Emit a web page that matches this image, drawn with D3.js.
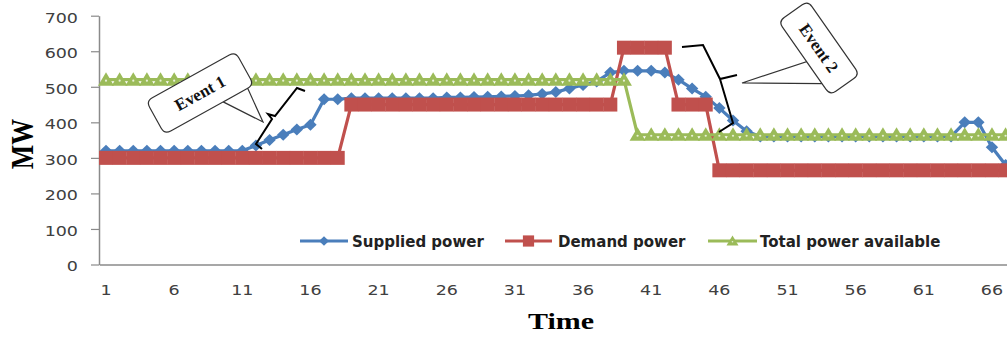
<!DOCTYPE html>
<html><head><meta charset="utf-8">
<script src="https://cdn.jsdelivr.net/npm/d3@7"></script>
<style>body{margin:0;background:#fff;} svg{display:block;}</style>
</head><body><svg id="c" width="1007" height="337"></svg>
<script>
// ---- data ----
const times = [1,2,3,4,5,6,7,8,9,10,11,12,13,14,15,16,17,18,19,20,21,22,23,24,25,26,27,28,29,30,
  31,32,33,34,35,36,37,38,39,40,41,42,43,44,45,46,47,48,49,50,51,52,53,54,55,56,57,58,59,60,
  61,62,63,64,65,66,67];
const supplied = [320,320,320,320,320,320,320,320,320,320,320,335,350,365,380,393,465,465,468,468,
  468,468,468,468,468,470,470,471,472,473,474,476,480,485,495,505,515,540,545,545,
  545,540,520,495,472,440,405,375,360,360,360,360,360,360,360,360,360,360,360,360,
  360,360,360,400,400,330,280];
const demand = [300,300,300,300,300,300,300,300,300,300,300,300,300,300,300,300,300,300,450,450,
  450,450,450,450,450,450,450,450,450,450,450,450,450,450,450,450,450,450,610,610,
  610,610,450,450,450,265,265,265,265,265,265,265,265,265,265,265,265,265,265,265,
  265,265,265,265,265,265,265];
const available = [520,520,520,520,520,520,520,520,520,520,520,520,520,520,520,520,520,520,520,520,
  520,520,520,520,520,520,520,520,520,520,520,520,520,520,520,520,520,520,520,365,
  365,365,365,365,365,365,365,365,365,365,365,365,365,365,365,365,365,365,365,365,
  365,365,365,365,365,365,365];
const xTickLabels = [1,6,11,16,21,26,31,36,41,46,51,56,61,66];
const yTickLabels = [0,100,200,300,400,500,600,700];
const seriesNames = ["Supplied power","Demand power","Total power available"];
const colors = ["#4a7ebb","#c0504d","#9bbb59"];

// ---- layout ----
const svg = d3.select("#c");
const step = 13.63;
const x = d3.scaleBand().domain(times).range([99.2, 99.2 + times.length*step]).padding(0);
const xc = t => x(t) + x.bandwidth()/2;
const y = d3.scaleLinear().domain([0,700]).range([264.5,15.7]);
const sx = 1.25;

// axes
const yAx = svg.append("g").attr("transform","translate(99,0)")
  .call(d3.axisLeft(y).tickValues(yTickLabels).tickSize(8).tickSizeOuter(0));
yAx.select(".domain").attr("stroke","#8a8a8a").attr("stroke-width",1.5);
yAx.selectAll(".tick line").attr("stroke","#8a8a8a").attr("stroke-width",1.2);
yAx.selectAll(".tick text").attr("font-family","DejaVu Sans").attr("font-size",14)
  .attr("fill","#404040").attr("x",-21/sx).attr("dy","0.45em").attr("transform",`scale(${sx},1)`);

const xAx = svg.append("g").attr("transform","translate(0,264.5)")
  .call(d3.axisBottom(x).tickValues(xTickLabels).tickSize(0).tickSizeOuter(0));
xAx.select(".domain").attr("stroke","#8a8a8a").attr("stroke-width",1.5);
xAx.selectAll(".tick text").attr("font-family","DejaVu Sans").attr("font-size",14)
  .attr("fill","#404040").attr("y",25.5).attr("dy","0.36em").attr("transform",`scale(${sx},1)`)
  .attr("x",0);
xAx.selectAll(".tick").attr("transform", d => `translate(${xc(d)},0)`);

// axis titles
svg.append("text").attr("transform","translate(561,329) scale(1.25,1)")
  .attr("text-anchor","middle").attr("font-family","Liberation Serif").attr("font-weight","bold")
  .attr("font-size",24).attr("fill","#000").text("Time");
svg.append("text").attr("transform","translate(33,144) scale(1.2,1) rotate(-90)")
  .attr("text-anchor","middle").attr("font-family","Liberation Serif").attr("font-weight","bold")
  .attr("font-size",26).attr("fill","#000").text("MW");

// markers
const markerFns = [
  (g,c) => g.append("path").attr("d","M0,-6L6.2,0L0,6L-6.2,0Z").attr("fill",c),
  (g,c) => g.append("rect").attr("x",-7).attr("y",-7).attr("width",14).attr("height",14).attr("fill",c),
  (g,c) => { g.append("path").attr("d","M0,-7.5L8,6L-8,6Z").attr("fill",c);
             g.append("circle").attr("cx",0).attr("cy",1).attr("r",1.1).attr("fill","#e8f1d6"); }
];

const allSeries = [supplied, demand, available];
const line = d3.line().x((d,i) => xc(times[i])).y(d => y(d));
allSeries.forEach((vals, si) => {
  const g = svg.append("g");
  g.append("path").attr("d", line(vals)).attr("fill","none").attr("stroke",colors[si])
    .attr("stroke-width",3.2).attr("stroke-linejoin","round");
  vals.forEach((v,i) => {
    const m = g.append("g").attr("transform",`translate(${xc(times[i])},${y(v)})`);
    markerFns[si](m, colors[si]);
  });
});

// legend
const legendItems = [{x0:300,x1:348,tx:352},{x0:505,x1:552,tx:558},{x0:708,x1:757,tx:760}];
const legendScale = [0.8,0.8,0.75];
legendItems.forEach((L,i) => {
  const g = svg.append("g");
  g.append("line").attr("x1",L.x0).attr("x2",L.x1).attr("y1",241).attr("y2",241)
    .attr("stroke",colors[i]).attr("stroke-width",3);
  const m = g.append("g").attr("transform",`translate(${(L.x0+L.x1)/2},241) scale(${legendScale[i]})`);
  markerFns[i](m, colors[i]);
  g.append("text").attr("x",L.tx).attr("y",246.5).attr("font-family","DejaVu Sans")
    .attr("font-weight","bold").attr("font-size",15).attr("fill","#222").text(seriesNames[i]);
});

// callouts
function callout(cx, cy, w, h, ang, b1, b2, tipX, tipY, label, fs) {
  const a = -ang*Math.PI/180;
  const dx = tipX-cx, dy = tipY-cy;
  const lx = dx*Math.cos(a) - dy*Math.sin(a);
  const ly = dx*Math.sin(a) + dy*Math.cos(a);
  const r = 7, hw = w/2, hh = h/2;
  const p = `M${-hw+r},${-hh} H${hw-r} Q${hw},${-hh} ${hw},${-hh+r} V${hh-r} Q${hw},${hh} ${hw-r},${hh}`+
    ` H${b2} L${lx},${ly} L${b1},${hh} H${-hw+r} Q${-hw},${hh} ${-hw},${hh-r} V${-hh+r} Q${-hw},${-hh} ${-hw+r},${-hh} Z`;
  const g = svg.append("g").attr("transform",`translate(${cx},${cy}) rotate(${ang})`);
  g.append("path").attr("d",p).attr("fill","#fff").attr("stroke","#333").attr("stroke-width",1.2);
  g.append("text").attr("x",0).attr("y",fs*0.35).attr("text-anchor","middle")
    .attr("font-family","Liberation Serif").attr("font-weight","bold").attr("font-size",fs)
    .attr("fill","#111").text(label);
}
callout(200, 93, 102, 38, -29, 44, 16, 263, 122, "Event 1", 17);
callout(819, 48, 90, 36, 55, 31, 4, 742, 83, "Event 2", 17);

// brackets
svg.append("path").attr("d","M262,149 L256,144 L272,119 L268,114 L275,116 L297,88 L305,91")
  .attr("fill","none").attr("stroke","#000").attr("stroke-width",2);
svg.append("path").attr("d","M682,47 L703,45 L720,79 L737,75 M720,79 L733,123 L719,132")
  .attr("fill","none").attr("stroke","#000").attr("stroke-width",2);
</script></body></html>
